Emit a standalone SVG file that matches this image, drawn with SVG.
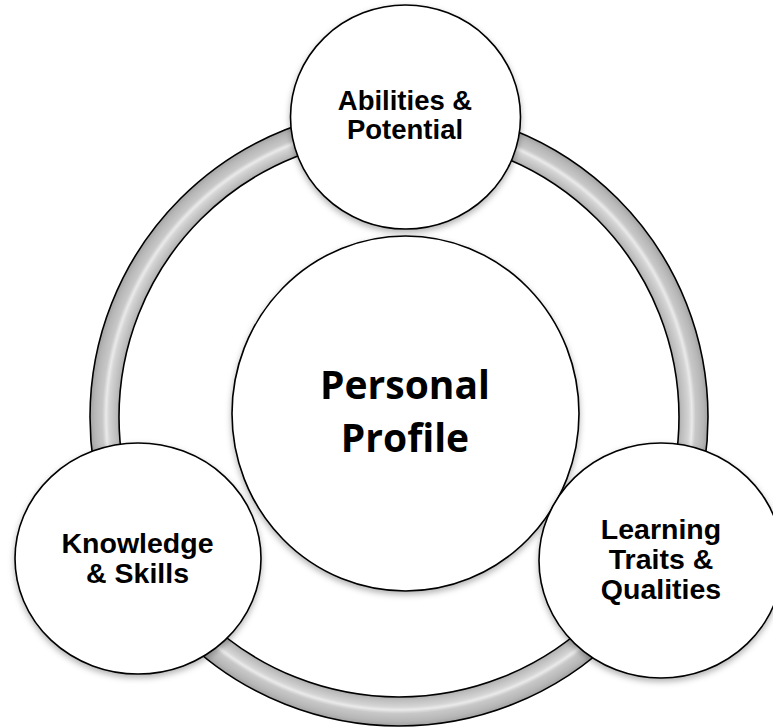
<svg xmlns="http://www.w3.org/2000/svg" width="773" height="728" viewBox="0 0 773 728">
  <style>
    .node { fill: #ffffff; stroke: #000000; stroke-width: 1.6; filter: url(#shadow); }
    .lbl { font-family: "Liberation Sans", Arial, sans-serif; font-weight: bold; font-size: 28.5px; fill: #000000; text-anchor: middle; }
    .lbl-top { font-size: 27.5px; }
    .main { font-family: "Open Sans", "Noto Sans", sans-serif; font-weight: bold; font-size: 39px; fill: #000000; text-anchor: middle; }
    .ring { fill: url(#ringGrad); stroke: #000000; stroke-width: 1.6; fill-rule: evenodd; }
  </style>
  <defs>
    <radialGradient id="ringGrad" gradientUnits="userSpaceOnUse" cx="399" cy="417" r="309">
      <stop offset="0.900" stop-color="#a0a0a0"/>
      <stop offset="0.915" stop-color="#bcbcbc"/>
      <stop offset="0.938" stop-color="#d4d4d4"/>
      <stop offset="0.948" stop-color="#eaeaea"/>
      <stop offset="0.960" stop-color="#c8c8c8"/>
      <stop offset="0.985" stop-color="#b6b6b6"/>
      <stop offset="1" stop-color="#a2a2a2"/>
    </radialGradient>
    <filter id="shadow" x="-10%" y="-10%" width="120%" height="125%">
      <feDropShadow dx="0" dy="3" stdDeviation="3" flood-color="#000000" flood-opacity="0.3"/>
    </filter>
  </defs>
  <rect width="773" height="728" fill="#ffffff"/>

  <g id="connectors">
    <path class="ring" d="M 90 417 A 309 309 0 1 0 708 417 A 309 309 0 1 0 90 417 Z M 119 417 A 280 280 0 1 0 679 417 A 280 280 0 1 0 119 417 Z"/>
  </g>

  <g id="node-center">
    <ellipse class="node" cx="405.5" cy="413.5" rx="173.5" ry="177.5"/>
    <text class="main" x="405" y="399">Personal</text>
    <text class="main" x="405" y="452">Profile</text>
  </g>

  <g id="node-abilities">
    <ellipse class="node" cx="405.5" cy="117" rx="115" ry="112"/>
    <text class="lbl lbl-top" x="405" y="110">Abilities &amp;</text>
    <text class="lbl lbl-top" x="405" y="138.5">Potential</text>
  </g>

  <g id="node-knowledge">
    <ellipse class="node" cx="138" cy="558.5" rx="123" ry="115.5"/>
    <text class="lbl" x="137.5" y="553">Knowledge</text>
    <text class="lbl" x="137.5" y="583">&amp; Skills</text>
  </g>

  <g id="node-learning">
    <ellipse class="node" cx="661" cy="560.5" rx="122" ry="117.5"/>
    <text class="lbl" x="661" y="539">Learning</text>
    <text class="lbl" x="661" y="569">Traits &amp;</text>
    <text class="lbl" x="661" y="599">Qualities</text>
  </g>
</svg>
